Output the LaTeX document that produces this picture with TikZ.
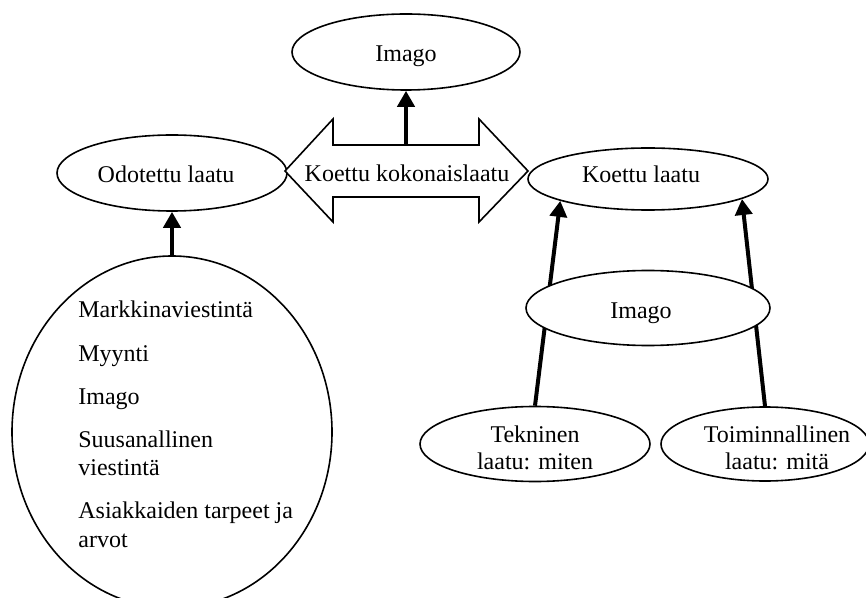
\documentclass[tikz,border=0pt]{standalone}
\usepackage{fontspec}
\setmainfont{Liberation Serif}
\usetikzlibrary{shapes.geometric,arrows.meta}
\pgfdeclarelayer{bg}
\pgfsetlayers{bg,main}
\begin{document}
\begin{tikzpicture}[x=0.5pt,y=-0.5pt,
  ell/.style={ellipse,draw,line width=0.8pt,fill=white,inner sep=0pt},
  txt/.style={anchor=base,inner sep=0pt,font=\fontsize{12pt}{14.25pt}\selectfont},
  ltxt/.style={anchor=base west,inner sep=0pt,font=\fontsize{12pt}{14.25pt}\selectfont},
  thick arrow/.style={line width=2pt,-{Triangle[length=8pt,width=8.5pt]}}]
\useasboundingbox (0,0) rectangle (866,598);
% ellipses
\node[ell,minimum width=228pt*0.5,minimum height=76pt*0.5] (imagoT) at (406,52) {};
\node[ell,minimum width=230pt*0.5,minimum height=76pt*0.5] (odot) at (172,173) {};
\node[ell,minimum width=240pt*0.5,minimum height=62pt*0.5] (koettu) at (648,179) {};
\node[ell,minimum width=244pt*0.5,minimum height=75pt*0.5] (imagoB) at (648,308) {};
\node[ell,minimum width=230pt*0.5,minimum height=75pt*0.5] (tek) at (535,444) {};
\node[ell,minimum width=208pt*0.5,minimum height=74pt*0.5] (toim) at (765,444) {};
\node[ell,minimum width=320pt*0.5,minimum height=352pt*0.5] (big) at (172,432) {};
% double arrow
\draw[line width=0.8pt,fill=white,line join=miter]
  (285,171) -- (333,119) -- (333,145) -- (479,145) -- (479,119) -- (528,171)
  -- (479,222) -- (479,197) -- (333,197) -- (333,222) -- cycle;
\coordinate (kktop) at (406,145);
% texts
\node[txt] (t1) at (406,62) {Imago};
\node[txt] (t2) at (166,183) {Odotettu laatu};
\node[txt] (t3) at (407,182) {Koettu kokonaislaatu};
\node[txt] (t4) at (641,183) {Koettu laatu};
\node[txt] (t5) at (641,319) {Imago};
\node[txt] (t6) at (535,442) {Tekninen};
\node[txt] (t7) at (535,469) {laatu: miten};
\node[txt] (t8) at (777,442) {Toiminnallinen};
\node[txt] (t9) at (777,469) {laatu: mitä};
\node[ltxt] (b1) at (78,318) {Markkinaviestintä};
\node[ltxt] (b2) at (78,361) {Myynti};
\node[ltxt] (b3) at (78,404) {Imago};
\node[ltxt] (b4) at (78,447) {Suusanallinen};
\node[ltxt] (b5) at (78,475) {viestintä};
\node[ltxt] (b6) at (78,518) {Asiakkaiden tarpeet ja};
\node[ltxt] (b7) at (78,547) {arvot};
% arrows
\draw[thick arrow] (kktop) -- (imagoT.south);
\draw[thick arrow] (big.north) -- (odot.south);
\begin{pgfonlayer}{bg}
\draw[thick arrow] (tek.north) -- (koettu.194.5);
\draw[thick arrow] (toim.north) -- (koettu.-12.8);
\end{pgfonlayer}
\end{tikzpicture}
\end{document}
